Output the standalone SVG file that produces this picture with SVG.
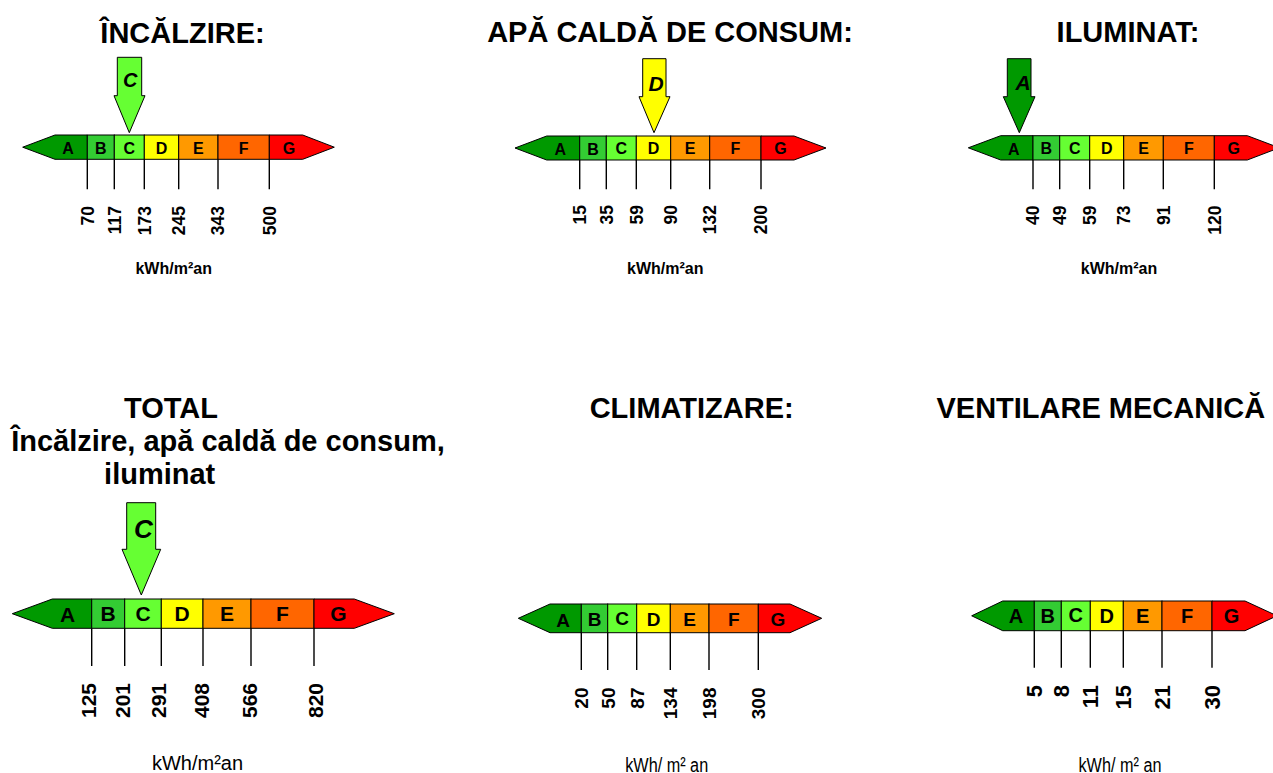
<svg xmlns="http://www.w3.org/2000/svg" width="1273" height="773" viewBox="0 0 1273 773">
<style>
text{font-family:"Liberation Sans",Arial,sans-serif;fill:#000}
.t{font-size:29px;font-weight:bold;text-anchor:middle}
.u{font-size:16px;font-weight:bold;text-anchor:middle}
.un{font-size:20px;text-anchor:middle}
.l{font-weight:bold;text-anchor:middle}
.n{font-weight:bold;text-anchor:end}
.ar{font-weight:bold;font-style:italic;text-anchor:middle}
.s{stroke:#000;stroke-width:1}
.tk{stroke:#000;stroke-width:1.4;fill:none}
.cA{fill:#009900}.cB{fill:#33CC33}.cC{fill:#66FF33}.cD{fill:#FFFF00}.cE{fill:#FF9900}.cF{fill:#FF6600}.cG{fill:#FF0000}
</style>
<rect width="1273" height="773" fill="#fff"/>

<g id="incalzire">
<text class="t" x="182.5" y="42.5">ÎNCĂLZIRE:</text>
<polygon class="s cC" points="117.3,57.3 141.7,57.3 141.7,95.7 145,95.7 129.3,132.7 114,95.7 117.3,95.7"/>
<text class="ar" x="130.3" y="87.3" font-size="20">C</text>
<polygon class="s cA" points="22.7,147.2 55,135 87.3,135 87.3,159.3 55,159.3"/>
<rect class="s cB" x="87.3" y="135" width="27" height="24.3"/>
<rect class="s cC" x="114.3" y="135" width="30" height="24.3"/>
<rect class="s cD" x="144.3" y="135" width="34.4" height="24.3"/>
<rect class="s cE" x="178.7" y="135" width="39.3" height="24.3"/>
<rect class="s cF" x="218" y="135" width="51.3" height="24.3"/>
<polygon class="s cG" points="269.3,135 302.7,135 334.3,147.2 302.7,159.3 269.3,159.3"/>
<g font-size="16"><text class="l" x="68" y="153.5">A</text><text class="l" x="100.8" y="153.5">B</text><text class="l" x="129.3" y="153.5">C</text><text class="l" x="161.5" y="153.5">D</text><text class="l" x="198.3" y="153.5">E</text><text class="l" x="243.7" y="153.5">F</text><text class="l" x="289" y="153.5">G</text></g>
<path class="tk" d="M87.3 159.3V189.3M114.3 159.3V189.3M144.3 159.3V189.3M178.7 159.3V189.3M218 159.3V189.3M269.3 159.3V189.3"/>
<g font-size="17.5">
<text class="n" transform="translate(93.6,206) rotate(-90)">70</text>
<text class="n" transform="translate(120.6,206) rotate(-90)">117</text>
<text class="n" transform="translate(150.6,206) rotate(-90)">173</text>
<text class="n" transform="translate(185,206) rotate(-90)">245</text>
<text class="n" transform="translate(224.3,206) rotate(-90)">343</text>
<text class="n" transform="translate(275.6,206) rotate(-90)">500</text>
</g>
<text class="u" x="173.7" y="274">kWh/m²an</text>
</g>

<g id="apa-calda">
<text class="t" x="670" y="42">APĂ CALDĂ DE CONSUM:</text>
<polygon class="s cD" points="642.7,58.7 666,58.7 666,96.7 670,96.7 654,132.7 639,96.7 642.7,96.7"/>
<text class="ar" x="656.2" y="90.7" font-size="21">D</text>
<polygon class="s cA" points="515,148 546.7,136 579.7,136 579.7,160 546.7,160"/>
<rect class="s cB" x="579.7" y="136" width="26.6" height="24"/>
<rect class="s cC" x="606.3" y="136" width="30" height="24"/>
<rect class="s cD" x="636.3" y="136" width="34.4" height="24"/>
<rect class="s cE" x="670.7" y="136" width="39" height="24"/>
<rect class="s cF" x="709.7" y="136" width="51.3" height="24"/>
<polygon class="s cG" points="761,136 794,136 826,148 794,160 761,160"/>
<g font-size="16"><text class="l" x="560.2" y="155">A</text><text class="l" x="593" y="155">B</text><text class="l" x="621.3" y="154">C</text><text class="l" x="653.5" y="154">D</text><text class="l" x="690.2" y="154">E</text><text class="l" x="735.3" y="154">F</text><text class="l" x="780.5" y="154">G</text></g>
<path class="tk" d="M579.7 160V189.3M606.3 160V189.3M636.3 160V189.3M670.7 160V189.3M709.7 160V189.3M761 160V189.3"/>
<g font-size="17.5">
<text class="n" transform="translate(586,205) rotate(-90)">15</text>
<text class="n" transform="translate(612.6,205) rotate(-90)">35</text>
<text class="n" transform="translate(642.6,205) rotate(-90)">59</text>
<text class="n" transform="translate(677,205) rotate(-90)">90</text>
<text class="n" transform="translate(716,205) rotate(-90)">132</text>
<text class="n" transform="translate(767.3,205) rotate(-90)">200</text>
</g>
<text class="u" x="665.3" y="273.5">kWh/m²an</text>
</g>

<g id="iluminat">
<text class="t" x="1128" y="42">ILUMINAT:</text>
<polygon class="s cA" points="1007.3,58.7 1031,58.7 1031,96.7 1035,96.7 1019.3,132.7 1003.3,96.7 1007.3,96.7"/>
<text class="ar" x="1023" y="90" font-size="21">A</text>
<polygon class="s cA" points="968.3,147.8 1000.7,135.7 1033,135.7 1033,160 1000.7,160"/>
<rect class="s cB" x="1033" y="135.7" width="26.7" height="24.3"/>
<rect class="s cC" x="1059.7" y="135.7" width="30" height="24.3"/>
<rect class="s cD" x="1089.7" y="135.7" width="34" height="24.3"/>
<rect class="s cE" x="1123.7" y="135.7" width="39.6" height="24.3"/>
<rect class="s cF" x="1163.3" y="135.7" width="51" height="24.3"/>
<polygon class="s cG" points="1214.3,135.7 1247.3,135.7 1279.3,147.8 1247.3,160 1214.3,160"/>
<g font-size="16"><text class="l" x="1013.8" y="155">A</text><text class="l" x="1046.3" y="154">B</text><text class="l" x="1074.7" y="153.5">C</text><text class="l" x="1106.7" y="154">D</text><text class="l" x="1143.5" y="154">E</text><text class="l" x="1188.8" y="154">F</text><text class="l" x="1233.8" y="154">G</text></g>
<path class="tk" d="M1033 160V189.3M1059.7 160V189.3M1089.7 160V189.3M1123.7 160V189.3M1163.3 160V189.3M1214.3 160V189.3"/>
<g font-size="17.5">
<text class="n" transform="translate(1039.3,205.5) rotate(-90)">40</text>
<text class="n" transform="translate(1066,205.5) rotate(-90)">49</text>
<text class="n" transform="translate(1096,205.5) rotate(-90)">59</text>
<text class="n" transform="translate(1130,205.5) rotate(-90)">73</text>
<text class="n" transform="translate(1169.6,205.5) rotate(-90)">91</text>
<text class="n" transform="translate(1220.6,205.5) rotate(-90)">120</text>
</g>
<text class="u" x="1119" y="273.5">kWh/m²an</text>
</g>

<g id="total">
<text class="t" x="171" y="417.7">TOTAL</text>
<text class="t" x="228" y="451">Încălzire, apă caldă de consum,</text>
<text class="t" x="159.7" y="484">iluminat</text>
<polygon class="s cC" points="126.7,502.7 155.7,502.7 155.7,549.3 160.7,549.3 141.3,595 122,549.3 126.7,549.3"/>
<text class="ar" x="143.3" y="538.3" font-size="26">C</text>
<polygon class="s cA" points="12.3,613.7 52.3,599 91.7,599 91.7,628.3 52.3,628.3"/>
<rect class="s cB" x="91.7" y="599" width="33" height="29.3"/>
<rect class="s cC" x="124.7" y="599" width="36.6" height="29.3"/>
<rect class="s cD" x="161.3" y="599" width="41.7" height="29.3"/>
<rect class="s cE" x="203" y="599" width="48" height="29.3"/>
<rect class="s cF" x="251" y="599" width="63" height="29.3"/>
<polygon class="s cG" points="314,599 354.3,599 394.3,613.7 354.3,628.3 314,628.3"/>
<g font-size="21"><text class="l" x="67.5" y="621.7">A</text><text class="l" x="108.2" y="621">B</text><text class="l" x="143" y="620.5">C</text><text class="l" x="182.2" y="621">D</text><text class="l" x="227" y="621">E</text><text class="l" x="282.5" y="621">F</text><text class="l" x="338.5" y="621">G</text></g>
<path class="tk" d="M91.7 628.3V666M124.7 628.3V666M161.3 628.3V666M203 628.3V666M251 628.3V666M314 628.3V666"/>
<g font-size="21">
<text class="n" transform="translate(96.3,683) rotate(-90)">125</text>
<text class="n" transform="translate(129.8,683) rotate(-90)">201</text>
<text class="n" transform="translate(166.3,683) rotate(-90)">291</text>
<text class="n" transform="translate(209.3,683) rotate(-90)">408</text>
<text class="n" transform="translate(256.8,683) rotate(-90)">566</text>
<text class="n" transform="translate(323.3,683) rotate(-90)">820</text>
</g>
<text class="un" x="197.5" y="770">kWh/m²an</text>
</g>

<g id="climatizare">
<text class="t" x="691.7" y="418.3">CLIMATIZARE:</text>
<polygon class="s cA" points="518.3,618.3 550,604 581.3,604 581.3,632.7 550,632.7"/>
<rect class="s cB" x="581.3" y="604" width="26.4" height="28.7"/>
<rect class="s cC" x="607.7" y="604" width="29" height="28.7"/>
<rect class="s cD" x="636.7" y="604" width="33.6" height="28.7"/>
<rect class="s cE" x="670.3" y="604" width="38.7" height="28.7"/>
<rect class="s cF" x="709" y="604" width="49.3" height="28.7"/>
<polygon class="s cG" points="758.3,604 790,604 821.7,618.3 790,632.7 758.3,632.7"/>
<g font-size="19"><text class="l" x="563" y="626.5">A</text><text class="l" x="594.5" y="625.5">B</text><text class="l" x="622.2" y="624.5">C</text><text class="l" x="653.5" y="625.5">D</text><text class="l" x="689.7" y="625.5">E</text><text class="l" x="733.7" y="625.5">F</text><text class="l" x="778" y="625.5">G</text></g>
<path class="tk" d="M581.3 632.7V670M607.7 632.7V670M636.7 632.7V670M670.3 632.7V670M709 632.7V670M758.3 632.7V670"/>
<g font-size="19">
<text class="n" transform="translate(588.1,687.5) rotate(-90)">20</text>
<text class="n" transform="translate(614.5,687.5) rotate(-90)">50</text>
<text class="n" transform="translate(643.5,687.5) rotate(-90)">87</text>
<text class="n" transform="translate(677.1,687.5) rotate(-90)">134</text>
<text class="n" transform="translate(715.8,687.5) rotate(-90)">198</text>
<text class="n" transform="translate(765.1,687.5) rotate(-90)">300</text>
</g>
<text class="un" x="666.7" y="771.5" font-size="19" textLength="83" lengthAdjust="spacingAndGlyphs">kWh/ m² an</text>
</g>

<g id="ventilare">
<text class="t" x="1100.8" y="418">VENTILARE MECANICĂ</text>
<polygon class="s cA" points="971.7,615.8 1002.7,601 1034.3,601 1034.3,630.7 1002.7,630.7"/>
<rect class="s cB" x="1034.3" y="601" width="27" height="29.7"/>
<rect class="s cC" x="1061.3" y="601" width="29" height="29.7"/>
<rect class="s cD" x="1090.3" y="601" width="33" height="29.7"/>
<rect class="s cE" x="1123.3" y="601" width="38.7" height="29.7"/>
<rect class="s cF" x="1162" y="601" width="50" height="29.7"/>
<polygon class="s cG" points="1212,601 1245,601 1277,615.8 1245,630.7 1212,630.7"/>
<g font-size="20"><text class="l" x="1016" y="623.3">A</text><text class="l" x="1047.8" y="622.5">B</text><text class="l" x="1075.8" y="622">C</text><text class="l" x="1106.8" y="622.5">D</text><text class="l" x="1142.7" y="622.5">E</text><text class="l" x="1187" y="622.5">F</text><text class="l" x="1231.5" y="622.5">G</text></g>
<path class="tk" d="M1034.3 630.7V667.7M1061.3 630.7V667.7M1090.3 630.7V667.7M1123.3 630.7V667.7M1162 630.7V667.7M1212 630.7V667.7"/>
<g font-size="22">
<text class="n" transform="translate(1042.2,685) rotate(-90)">5</text>
<text class="n" transform="translate(1069.2,685) rotate(-90)">8</text>
<text class="n" transform="translate(1098.2,685) rotate(-90)">11</text>
<text class="n" transform="translate(1131.2,685) rotate(-90)">15</text>
<text class="n" transform="translate(1169.9,685) rotate(-90)">21</text>
<text class="n" transform="translate(1219.9,685) rotate(-90)">30</text>
</g>
<text class="un" x="1120" y="771.5" font-size="19" textLength="83" lengthAdjust="spacingAndGlyphs">kWh/ m² an</text>
</g>
</svg>
